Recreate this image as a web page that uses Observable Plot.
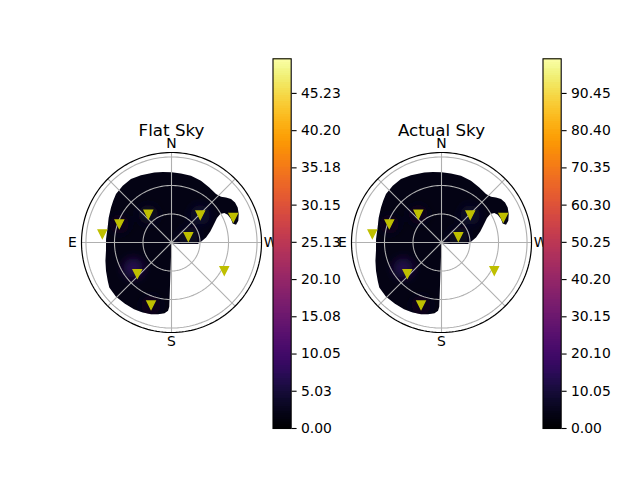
<!DOCTYPE html>
<html>
<head>
<meta charset="utf-8">
<script src="https://cdn.jsdelivr.net/npm/d3@7"></script>
<script src="https://cdn.jsdelivr.net/npm/@observablehq/plot@0.6"></script>
<style>
  html, body { margin: 0; padding: 0; background: #fff; }
  #fig { position: relative; width: 640px; height: 480px; overflow: hidden; font-family: "DejaVu Sans", sans-serif; }
</style>
</head>
<body>
<div id="fig"></div>
<script>
// ---- data ----
const titles = ["Flat Sky", "Actual Sky"];
const rMax = 94.7;                       // outer radius (zenith deg)
const ringZen = [30, 60, 90];
const spokeAz = [0, 45, 90, 135, 180, 225, 270, 315];
const compassText = ["N", "E", "S", "W"];
const compassAz = [0, 90, 180, 270];

// station markers (azimuth deg from N toward E, zenith deg)
const markerAz  = [83.1, 70.6, 39.6, 313.6, 292.0, 288.7, 241.8, 132.5, 161.9];
const markerZen = [73.3, 58.2, 38.3, 41.8, 70.1, 18.7, 63.0, 48.8, 69.3];

// boundary of the interpolated sky field
const boundaryAz  = [260.4, 265.3, 266.5, 271.4, 278.2, 285.8, 292.7, 298.2, 300.2, 299.1, 296.2, 291.5, 287.3, 285.4, 288.0, 292.9, 297.9, 302.2, 306.1, 309.6, 312.7, 317.4, 325.5, 334.5, 343.7, 352.2, 0.0, 13.8, 24.4, 32.6, 40.7, 48.9, 60.0, 76.8, 97.2, 113.4, 121.0, 125.9, 134.4, 142.8, 150.7, 157.1, 164.1, 169.4, 174.4, 177.1, 178.0, 178.0, 178.0];
const boundaryZen = [10.1, 20.6, 27.6, 31.0, 36.7, 42.4, 48.1, 54.3, 59.4, 63.6, 65.9, 67.3, 67.4, 70.4, 73.9, 76.8, 78.8, 79.0, 77.5, 74.4, 70.9, 69.2, 70.2, 72.0, 73.1, 73.3, 73.9, 75.8, 77.8, 79.2, 78.7, 77.5, 73.5, 69.0, 69.5, 75.1, 78.3, 80.8, 81.7, 81.0, 80.6, 79.7, 78.6, 76.9, 74.9, 71.9, 67.7, 30.0, 1.0];

// faint brighter spots inside the field
const glowAz  = [124.0, 313.6, 288.7, 39.6, 70.6, 161.9];
const glowZen = [48.5, 41.8, 18.7, 38.3, 58.2, 69.3];
const flatGlow   = [7.0, 4.2, 3.4, 3.0, 2.8, 2.8];
const actualGlow = [13.0, 8.0, 6.6, 5.8, 5.4, 5.4];
const flatBase = 1.8, actualBase = 3.6;

// colorbars
const flatMax = 49.9, actualMax = 99.8;
const flatTickLabels   = ["0.00","5.03","10.05","15.08","20.10","25.13","30.15","35.18","40.20","45.23"];
const actualTickLabels = ["0.00","10.05","20.10","30.15","40.20","50.25","60.30","70.35","80.40","90.45"];

// ---- drawing ----
const lat = z => 90 - z;
const labelZen = rMax * 99 / 90;
const baseStyle = {fontFamily: "DejaVu Sans", background: "none", overflow: "visible", color: "black"};

const triDown = {
  draw(context, size) {
    const h = Math.sqrt(2 * size);
    context.moveTo(0, h / 2);
    context.lineTo(-h / 2, -h / 2);
    context.lineTo(h / 2, -h / 2);
    context.closePath();
  }
};

function polar(title, base, glowVals, maxV) {
  const ring = boundaryAz.map((a, i) => [a, lat(boundaryZen[i])]);
  ring.push(ring[0]);
  let geom = {type: "Polygon", coordinates: [ring]};
  if (d3.geoArea(geom) > 2 * Math.PI) geom = {type: "Polygon", coordinates: [ring.slice().reverse()]};
  const region = [{type: "Feature", properties: {value: base}, geometry: geom}];
  const rings = ringZen.map(z => d3.geoCircle().center([0, 90]).radius(z)());
  const outer = d3.geoCircle().center([0, 90]).radius(rMax)();
  const glows = glowAz.map((a, i) => ({az: a, zen: glowZen[i], v: glowVals[i]}));
  const markers = markerAz.map((a, i) => ({az: a, zen: markerZen[i]}));
  const compass = compassText.map((t, i) => ({t, az: compassAz[i]}));
  return Plot.plot({
    width: 240, height: 240, margin: 30,
    projection: {type: "azimuthal-equidistant", rotate: [180, -90], domain: outer, clip: false},
    color: {type: "linear", scheme: "inferno", domain: [0, maxV]},
    style: baseStyle,
    marks: [
      Plot.geo(region, {fill: d => d.properties.value}),
      Plot.dot(glows, {x: "az", y: d => lat(d.zen), r: 10, fill: "v"}),
      Plot.geo(rings, {fill: "none", stroke: "#b0b0b0", strokeWidth: 1.1}),
      Plot.link(spokeAz, {x1: d => d, y1: 89.999, x2: d => d, y2: lat(rMax), stroke: "#b0b0b0", strokeWidth: 1.1}),
      Plot.geo([outer], {fill: "none", stroke: "black", strokeWidth: 1.2}),
      Plot.text(compass, {x: "az", y: lat(labelZen), text: "t", fontSize: 13.9, fill: "black", textAnchor: "middle", lineAnchor: "middle"}),
      Plot.dot(markers, {x: "az", y: d => lat(d.zen), symbol: triDown, r: 3.32, fill: "#bfbf00", stroke: "#bfbf00", strokeWidth: 1.4}),
      Plot.text([title], {frameAnchor: "top", lineAnchor: "bottom", dy: -17, fontSize: 16.7, fill: "black"})
    ]
  });
}

function addGlow(svg, id) {
  const s = d3.select(svg);
  const d = s.select('g[aria-label="geo"] path').attr("d");
  const defs = s.insert("defs", ":first-child");
  defs.append("filter").attr("id", "blur" + id)
    .attr("x", "-50%").attr("y", "-50%").attr("width", "200%").attr("height", "200%")
    .append("feGaussianBlur").attr("stdDeviation", 5);
  defs.append("clipPath").attr("id", "clip" + id).append("path").attr("d", d);
  s.select('g[aria-label="dot"]').attr("filter", `url(#blur${id})`).attr("clip-path", `url(#clip${id})`);
}

function colorbar(maxV, labels) {
  const values = labels.map(Number);
  const n = 200;
  const bins = d3.range(n).map(i => ({y1: maxV * i / n, y2: maxV * (i + 1) / n, v: maxV * (i + 0.5) / n}));
  return Plot.plot({
    width: 100, height: 480, marginTop: 58.3, marginBottom: 52, marginLeft: 0.5, marginRight: 100 - 0.5 - 18.2,
    x: {domain: [0, 1], axis: null},
    y: {domain: [0, maxV], axis: null},
    color: {type: "linear", scheme: "inferno", domain: [0, maxV]},
    style: baseStyle,
    marks: [
      Plot.rect(bins, {x1: 0, x2: 1, y1: "y1", y2: "y2", fill: "v", shapeRendering: "crispEdges"}),
      Plot.frame({stroke: "black", strokeWidth: 1.1}),
      Plot.axisY(values, {anchor: "right", tickSize: 4.9, tickPadding: 4.9, tickFormat: d => labels[values.indexOf(d)],
        fontSize: 13.9, strokeWidth: 1.1, label: null, fill: "black", stroke: "black"})
    ]
  });
}

function place(el, left, top) {
  el.style.position = "absolute";
  el.style.left = left + "px";
  el.style.top = top + "px";
  el.style.maxWidth = "none";
  document.getElementById("fig").appendChild(el);
}

const p1 = polar(titles[0], flatBase, flatGlow, flatMax);
place(p1, 50.5, 121.7); addGlow(p1, 1);
place(colorbar(flatMax, flatTickLabels), 272.2, 0);
const p2 = polar(titles[1], actualBase, actualGlow, actualMax);
place(p2, 321, 121.7); addGlow(p2, 2);
place(colorbar(actualMax, actualTickLabels), 541.8, 0);
</script>
</body>
</html>
